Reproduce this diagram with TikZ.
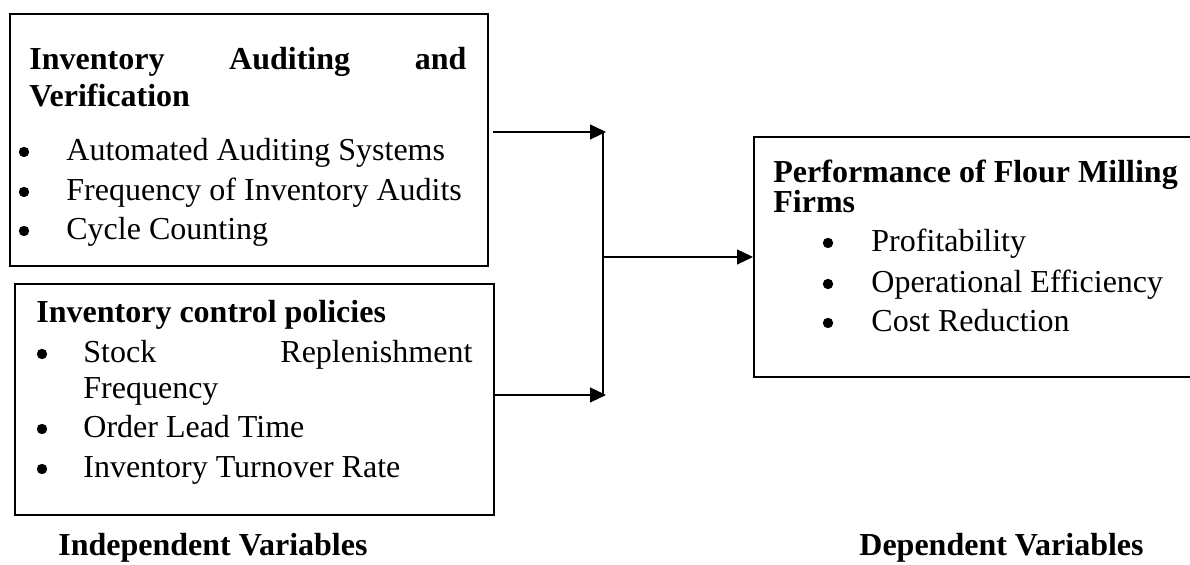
\documentclass[tikz,border=0pt]{standalone}
\usepackage{fontspec}
\setmainfont{Liberation Serif}
\usetikzlibrary{arrows.meta}

\tikzset{
	varbox/.style={draw, line width=1pt, anchor=north west, inner sep=0pt},
	txt/.style={anchor=base west, inner sep=0pt, font=\fontsize{16}{19.5}\selectfont},
	dot/.style={circle, fill, inner sep=0pt, minimum size=5.2pt},
	conn/.style={line width=0.6pt, -{Triangle[length=8pt,width=7.5pt]}},
}

\begin{document}
\begin{tikzpicture}[x=0.5pt,y=-0.5pt]
				\useasboundingbox (0,0) rectangle (1190,565);
				% independent variables
				\node[varbox, minimum width=239pt, minimum height=126pt] (audit) at (9,13) {};
				\node[txt] (auditA) at (29,70) {\makebox[218.5pt][s]{\bfseries Inventory Auditing and}};
				\node[txt] (auditB) at (29,107) {\bfseries Verification};
				\node[dot] (b1) at (24,152) {};
				\node[txt] (a1) at (66,161) {Automated Auditing Systems};
				\node[dot] (b2) at (24,192) {};
				\node[txt] (a2) at (66,201) {Frequency of Inventory Audits};
				\node[dot] (b3) at (24,231) {};
				\node[txt] (a3) at (66,240) {Cycle Counting};

				\node[varbox, minimum width=239.5pt, minimum height=115.5pt] (policy) at (14,283) {};
				\node[txt] (policyA) at (36,323) {\bfseries Inventory control policies};
				\node[dot] (b4) at (42,354) {};
				\node[txt] (p1) at (83,363) {\makebox[194.5pt][s]{Stock Replenishment}};
				\node[txt] (p1b) at (83,399) {Frequency};
				\node[dot] (b5) at (42,429) {};
				\node[txt] (p2) at (83,438) {Order Lead Time};
				\node[dot] (b6) at (42,469) {};
				\node[txt] (p3) at (83,478) {Inventory Turnover Rate};

				% dependent variable
				\node[varbox, minimum width=223.5pt, minimum height=120pt] (perf) at (753,136) {};
				\node[txt] (perfA) at (773,183) {\bfseries Performance of Flour Milling};
				\node[txt] (perfB) at (773,213) {\bfseries Firms};
				\node[dot] (b7) at (828,243) {};
				\node[txt] (f1) at (871,252) {Profitability};
				\node[dot] (b8) at (828,284) {};
				\node[txt] (f2) at (871,293) {Operational Efficiency};
				\node[dot] (b9) at (828,323) {};
				\node[txt] (f3) at (871,332) {Cost Reduction};

				% connectors
				\coordinate (jtop) at (606,132);
				\coordinate (jbot) at (606,395);
				\coordinate (jmid) at (603,257);
				\draw[conn] ([xshift=2pt]audit.east |- jtop) -- (jtop);
				\draw[conn] ([xshift=-1pt]policy.east |- jbot) -- (jbot);
				\draw[line width=0.6pt] (603,132) -- (603,395);
				\draw[conn] (jmid) -- (perf.west |- jmid);

				\node[txt] (indep) at (58,556) {\bfseries Independent Variables};
				\node[txt] (dep) at (859,556) {\bfseries Dependent Variables};
\end{tikzpicture}
\end{document}
